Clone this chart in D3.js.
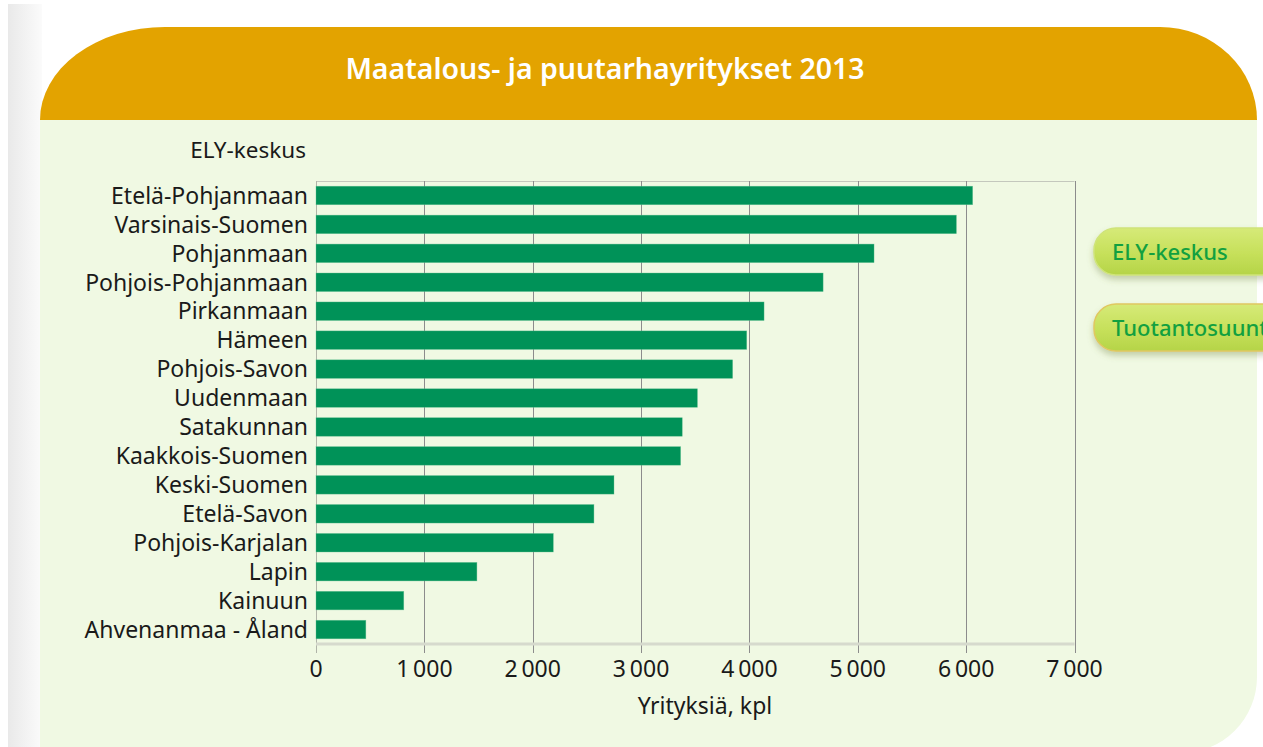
<!DOCTYPE html>
<html>
<head>
<meta charset="utf-8">
<script src="https://cdn.jsdelivr.net/npm/d3@7"></script>
<style>
  html, body { margin: 0; padding: 0; background: #ffffff; }
  svg { display: block; }
  text { font-family: "Noto Sans", "Open Sans", sans-serif; }
</style>
</head>
<body>
<svg id="chart" width="1263" height="747"></svg>
<script>
// ---- data ----
const categories = [
  "Etelä-Pohjanmaan", "Varsinais-Suomen", "Pohjanmaan", "Pohjois-Pohjanmaan",
  "Pirkanmaan", "Hämeen", "Pohjois-Savon", "Uudenmaan", "Satakunnan",
  "Kaakkois-Suomen", "Keski-Suomen", "Etelä-Savon", "Pohjois-Karjalan",
  "Lapin", "Kainuun", "Ahvenanmaa - Åland"
];
const values = [6060, 5910, 5150, 4680, 4135, 3975, 3845, 3520, 3380, 3365, 2750, 2565, 2190, 1485, 810, 460];
const xTicks = [0, 1000, 2000, 3000, 4000, 5000, 6000, 7000];
const title = "Maatalous- ja puutarhayritykset 2013";
const yAxisTitle = "ELY-keskus";
const xAxisTitle = "Yrityksiä, kpl";
const buttons = ["ELY-keskus", "Tuotantosuunta"];

const svg = d3.select("#chart");
const defs = svg.append("defs");

// left gray strip gradient
const lg = defs.append("linearGradient").attr("id", "strip").attr("x1", 0).attr("x2", 1).attr("y1", 0).attr("y2", 0);
lg.append("stop").attr("offset", "0%").attr("stop-color", "#e9e9e9");
lg.append("stop").attr("offset", "100%").attr("stop-color", "#fbfbfb");
svg.append("rect").attr("x", 8).attr("y", 4).attr("width", 34).attr("height", 743).attr("fill", "url(#strip)");

// panel body
const L = 40, R = 1257, T = 27, HB = 120, B = 753;
const body = d3.path();
body.moveTo(L, HB);
body.lineTo(R, HB);
body.lineTo(R, B - 76);
body.arcTo(R, B, R - 76, B, 76);
body.lineTo(L, B);
body.closePath();
svg.append("path").attr("d", body.toString()).attr("fill", "#f0f9e3");

// header
const hd = `M${L},${HB} A125,93 0 0 1 ${L + 125},${T} L${R - 97},${T} A97,93 0 0 1 ${R},${HB} Z`;
svg.append("path").attr("d", hd).attr("fill", "#e3a300");
svg.append("text").attr("x", 605).attr("y", 79).attr("text-anchor", "middle")
  .attr("fill", "#ffffff").attr("font-size", 28.5).attr("font-weight", 600).text(title);

// scales
const x = d3.scaleLinear().domain([0, 7000]).range([316, 1074.5]);
const y = d3.scaleBand().domain(categories).range([181, 644]).paddingInner(0.36).paddingOuter(0.18);

// grid lines
const g = svg.append("g");
g.append("line").attr("x1", x(0)).attr("x2", x(7000)).attr("y1", 181.5).attr("y2", 181.5)
  .attr("stroke", "#c4c8bd").attr("stroke-width", 1);
g.selectAll("line.grid").data(xTicks).enter().append("line").attr("class", "grid")
  .attr("x1", d => Math.round(x(d)) + 0.5).attr("x2", d => Math.round(x(d)) + 0.5)
  .attr("y1", 181).attr("y2", 653)
  .attr("stroke", d => d === 0 ? "#b0b4a8" : "#8c8c8c").attr("stroke-width", 1);
g.append("line").attr("x1", x(0)).attr("x2", x(7000)).attr("y1", 644).attr("y2", 644)
  .attr("stroke", "#d6dacd").attr("stroke-width", 3);

// bars
svg.append("g").selectAll("rect").data(categories).enter().append("rect")
  .attr("x", x(0))
  .attr("y", d => y(d))
  .attr("width", (d, i) => x(values[i]) - x(0))
  .attr("height", y.bandwidth())
  .attr("fill", "#009258")
  .attr("stroke", "#5fbf8f").attr("stroke-width", 0.6).attr("stroke-opacity", 0.6);

// y labels
svg.append("g").selectAll("text").data(categories).enter().append("text")
  .attr("x", 308).attr("y", d => y(d) + y.bandwidth() / 2)
  .attr("dy", "0.36em").attr("text-anchor", "end")
  .attr("font-size", 23).attr("fill", "#1a1a1a").text(d => d);

svg.append("text").attr("x", 306).attr("y", 150).attr("dy", "0.36em").attr("text-anchor", "end")
  .attr("font-size", 22.5).attr("fill", "#1a1a1a").text(yAxisTitle);

// x tick labels
const fmt = d => d3.format(",")(d).replace(/,/g, "\u2009");
svg.append("g").selectAll("text").data(xTicks).enter().append("text")
  .attr("x", d => x(d)).attr("y", 669).attr("dy", "0.36em").attr("text-anchor", "middle")
  .attr("font-size", 23).attr("fill", "#1a1a1a").text(fmt);

svg.append("text").attr("x", 705).attr("y", 706).attr("dy", "0.36em").attr("text-anchor", "middle")
  .attr("font-size", 23).attr("fill", "#1a1a1a").text(xAxisTitle);

// right buttons
const pg = defs.append("linearGradient").attr("id", "pill").attr("x1", 0).attr("x2", 0).attr("y1", 0).attr("y2", 1);
pg.append("stop").attr("offset", "0%").attr("stop-color", "#d6ea78");
pg.append("stop").attr("offset", "55%").attr("stop-color", "#c6e05a");
pg.append("stop").attr("offset", "100%").attr("stop-color", "#b5d448");
const sh = defs.append("filter").attr("id", "shadow").attr("x", "-20%").attr("y", "-30%").attr("width", "140%").attr("height", "170%");
sh.append("feDropShadow").attr("dx", 0).attr("dy", 4).attr("stdDeviation", 3).attr("flood-color", "#6d7f3a").attr("flood-opacity", 0.35);

const by = [228, 304];
const bg = svg.append("g");
buttons.forEach((b, i) => {
  bg.append("rect").attr("x", 1094).attr("y", by[i]).attr("width", 220).attr("height", 47)
    .attr("rx", 22).attr("ry", 22).attr("fill", "url(#pill)")
    .attr("stroke", i === 1 ? "#e0c860" : "#cfe47a").attr("stroke-width", 1.5)
    .attr("filter", "url(#shadow)");
  bg.append("text").attr("x", 1112).attr("y", by[i] + 24).attr("dy", "0.36em")
    .attr("font-size", 22).attr("font-weight", 500).attr("fill", "#12a040").text(b);
});
</script>
</body>
</html>
